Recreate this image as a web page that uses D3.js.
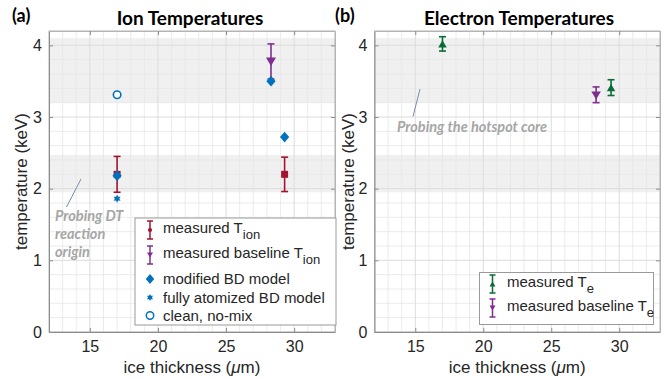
<!DOCTYPE html>
<html><head><meta charset="utf-8">
<script src="https://cdn.jsdelivr.net/npm/d3@7"></script>
<style>body{margin:0;background:#fff}svg{display:block}</style>
</head><body>
<svg id="c" width="667" height="379"></svg>
<script>
// ---- data ----
const xTicks = [15, 20, 25, 30];
const yTicks = [0, 1, 2, 3, 4];
const xDomain = [12, 33];
const yDomain = [0, 4.2];
const bands = [[1.95, 2.47], [3.2, 4.1]];

// Ion temperatures (panel a)
const measuredTion = [ {x: 17, y: 2.2, lo: 1.95, hi: 2.45}, {x: 29.3, y: 2.2, lo: 1.96, hi: 2.44} ];
const baselineTion = [ {x: 28.3, y: 3.77, lo: 3.53, hi: 4.02} ];
const modifiedBD = [ {x: 17, y: 2.18}, {x: 28.3, y: 3.5}, {x: 29.3, y: 2.72} ];
const fullyAtomizedBD = [ {x: 17, y: 1.86} ];
const cleanNoMix = [ {x: 17, y: 3.31} ];

// Electron temperatures (panel b)
const measuredTe = [ {x: 17, y: 4.02, lo: 3.92, hi: 4.12}, {x: 29.4, y: 3.41, lo: 3.3, hi: 3.52} ];
const baselineTe = [ {x: 28.3, y: 3.3, lo: 3.2, hi: 3.42} ];

const C = {red: "#A2142F", purple: "#7E2F8E", blue: "#0072BD", green: "#0B6B38"};
const svg = d3.select("#c");
const tickFont = "'Liberation Sans', Arial, sans-serif";
const titleFont = "Lato, 'Open Sans', sans-serif";

function diamondPath(hw, hh){ return `M0,${-hh}L${hw},0L0,${hh}L${-hw},0Z`; }
function triPath(s, down){ const h = s*0.85; return down ? `M${-s/2},${-h/2}L${s/2},${-h/2}L0,${h/2}Z` : `M${-s/2},${h/2}L${s/2},${h/2}L0,${-h/2}Z`; }
function hexPath(r){
  let p = "";
  for (let k=0;k<12;k++){ const a = -Math.PI/2 + k*Math.PI/6; const rr = k%2===0 ? r : r*0.55; p += (k?"L":"M") + (rr*Math.cos(a)).toFixed(2) + "," + (rr*Math.sin(a)).toFixed(2); }
  return p + "Z";
}

function panel(opt){
  const g = svg.append("g");
  const x = d3.scaleLinear().domain(xDomain).range([opt.x0, opt.x1]);
  const y = d3.scaleLinear().domain(yDomain).range([opt.y1, opt.y0]);
  g.selectAll(".band").data(bands).enter().append("rect")
    .attr("x", opt.x0).attr("width", opt.x1-opt.x0)
    .attr("y", d=>y(d[1])).attr("height", d=>y(d[0])-y(d[1]))
    .attr("fill", "#f0f0f0");
  const minorX = d3.range(13, 33, 1).filter(v=>!xTicks.includes(v));
  const minorY = d3.range(0.2, 4.2, 0.2).map(v=>+v.toFixed(1)).filter(v=>!yTicks.includes(v));
  g.selectAll(".mx").data(minorX).enter().append("line")
    .attr("x1", d=>x(d)).attr("x2", d=>x(d)).attr("y1", opt.y0).attr("y2", opt.y1)
    .attr("stroke", "#e6e6e6").attr("stroke-width", 0.8);
  g.selectAll(".my").data(minorY).enter().append("line")
    .attr("y1", d=>y(d)).attr("y2", d=>y(d)).attr("x1", opt.x0).attr("x2", opt.x1)
    .attr("stroke", "#e6e6e6").attr("stroke-width", 0.8);
  g.selectAll(".gx").data(xTicks).enter().append("line")
    .attr("x1", d=>x(d)).attr("x2", d=>x(d)).attr("y1", opt.y0).attr("y2", opt.y1)
    .attr("stroke", "#dcdcdc").attr("stroke-width", 1);
  g.selectAll(".gy").data(yTicks).enter().append("line")
    .attr("y1", d=>y(d)).attr("y2", d=>y(d)).attr("x1", opt.x0).attr("x2", opt.x1)
    .attr("stroke", "#dcdcdc").attr("stroke-width", 1);
  g.append("rect").attr("x", opt.x0).attr("y", opt.y0).attr("width", opt.x1-opt.x0).attr("height", opt.y1-opt.y0)
    .attr("fill", "none").attr("stroke", "#b4b4b4").attr("stroke-width", 1);
  const ax = g.append("g").attr("transform", `translate(0,${opt.y1})`)
    .call(d3.axisBottom(x).tickValues(xTicks).tickSizeInner(-4).tickSizeOuter(0).tickPadding(9));
  const ay = g.append("g").attr("transform", `translate(${opt.x0},0)`)
    .call(d3.axisLeft(y).tickValues(yTicks).tickFormat(d3.format("d")).tickSizeInner(-4).tickSizeOuter(0).tickPadding(7));
  const axT = g.append("g").attr("transform", `translate(0,${opt.y0})`)
    .call(d3.axisTop(x).tickValues(xTicks).tickSizeInner(-4).tickSizeOuter(0).tickFormat(""));
  const ayR = g.append("g").attr("transform", `translate(${opt.x1},0)`)
    .call(d3.axisRight(y).tickValues(yTicks).tickSizeInner(-4).tickSizeOuter(0).tickFormat(""));
  [ax, ay, axT, ayR].forEach(a => {
    a.select(".domain").attr("stroke", "#b4b4b4");
    a.selectAll(".tick line").attr("stroke", "#8c8c8c");
    a.selectAll("text").attr("font-family", tickFont).attr("font-size", 16).attr("fill", "#262626");
  });
  ax.select(".domain").attr("stroke", "#8c8c8c");
  ay.select(".domain").attr("stroke", "#8c8c8c");
  const xl = g.append("text").attr("x", (opt.x0+opt.x1)/2).attr("y", 373).attr("text-anchor", "middle")
    .attr("font-family", tickFont).attr("font-size", 17).attr("fill", "#262626");
  xl.append("tspan").text("ice thickness (");
  xl.append("tspan").attr("font-style", "italic").text("μ");
  xl.append("tspan").text("m)");
  g.append("text").attr("transform", `translate(${opt.ylx},${(opt.y0+opt.y1)/2}) rotate(-90)`)
    .attr("text-anchor", "middle").attr("font-family", tickFont).attr("font-size", 17).attr("fill", "#262626")
    .text("temperature (keV)");
  g.append("text").attr("x", opt.tx).attr("y", 25).attr("text-anchor", "middle")
    .attr("font-family", titleFont).attr("font-weight", "bold").attr("font-size", 19).attr("fill", "#000")
    .text(opt.title);
  g.append("text").attr("x", opt.lx).attr("y", 22)
    .attr("font-family", titleFont).attr("font-weight", "bold").attr("font-size", 18).attr("fill", "#000")
    .text(opt.letter);
  return {g, x, y};
}

function errBars(g, x, y, data, color, cap){
  const e = g.append("g").attr("stroke", color).attr("stroke-width", 1.6).attr("fill", "none");
  data.forEach(d => {
    e.append("line").attr("x1", x(d.x)).attr("x2", x(d.x)).attr("y1", y(d.lo)).attr("y2", y(d.hi));
    e.append("line").attr("x1", x(d.x)-cap).attr("x2", x(d.x)+cap).attr("y1", y(d.lo)).attr("y2", y(d.lo));
    e.append("line").attr("x1", x(d.x)-cap).attr("x2", x(d.x)+cap).attr("y1", y(d.hi)).attr("y2", y(d.hi));
  });
}
function marks(g, x, y, data, path, fill, stroke, sw){
  g.selectAll(null).data(data).enter().append("path")
    .attr("transform", d=>`translate(${x(d.x)},${y(d.y)})`).attr("d", path)
    .attr("fill", fill).attr("stroke", stroke || "none").attr("stroke-width", sw || 0);
}

function legendErr(g, cx, cy, color, markerPath){
  const e = g.append("g").attr("stroke", color).attr("stroke-width", 1.5);
  e.append("line").attr("x1", cx).attr("x2", cx).attr("y1", cy-9).attr("y2", cy+9);
  e.append("line").attr("x1", cx-3).attr("x2", cx+3).attr("y1", cy-9).attr("y2", cy-9);
  e.append("line").attr("x1", cx-3).attr("x2", cx+3).attr("y1", cy+9).attr("y2", cy+9);
  g.append("path").attr("transform", `translate(${cx},${cy})`).attr("d", markerPath).attr("fill", color);
}
function legendText(g, tx, ty, main, sub){
  const t = g.append("text").attr("x", tx).attr("y", ty+5).attr("font-family", tickFont).attr("font-size", 15).attr("fill", "#262626");
  t.append("tspan").text(main);
  if (sub) t.append("tspan").attr("dy", 6).attr("font-size", 13).text(sub);
}

// ---- panel (a) ----
const A = panel({x0: 49, x1: 335, y0: 31, y1: 332, title: "Ion Temperatures", tx: 190, letter: "(a)", lx: 12, ylx: 27});
A.g.append("line").attr("x1", 81).attr("y1", 179).attr("x2", 66.5).attr("y2", 207).attr("stroke", "#7d8ca6").attr("stroke-width", 1);
const annA = A.g.append("text").attr("font-family", titleFont).attr("font-weight", "bold").attr("font-style", "italic")
  .attr("font-size", 14.5).attr("fill", "#a6a6a6");
["Probing DT", "reaction", "origin"].forEach((s, i) => annA.append("tspan").attr("x", 55).attr("y", 221 + i*18).text(s));

errBars(A.g, A.x, A.y, measuredTion, C.red, 3.5);
marks(A.g, A.x, A.y, measuredTion, "M-3.5,-3.5H3.5V3.5H-3.5Z", C.red);
errBars(A.g, A.x, A.y, baselineTion, C.purple, 3.5);
marks(A.g, A.x, A.y, baselineTion, triPath(10, true), C.purple);
marks(A.g, A.x, A.y, modifiedBD, diamondPath(4.6, 5.4), C.blue);
marks(A.g, A.x, A.y, fullyAtomizedBD, hexPath(4), C.blue);
marks(A.g, A.x, A.y, cleanNoMix, d3.symbol(d3.symbolCircle, 44)(), "#fff", C.blue, 1.6);

const LA = A.g.append("g");
LA.append("rect").attr("x", 135).attr("y", 218).attr("width", 201).attr("height", 107).attr("fill", "#fff").attr("stroke", "#9a9a9a").attr("stroke-width", 1);
legendErr(LA, 150, 230, C.red, d3.symbol(d3.symbolCircle, 14)());
legendText(LA, 163, 228, "measured T", "ion");
legendErr(LA, 150, 255, C.purple, triPath(6, true));
legendText(LA, 163, 253, "measured baseline T", "ion");
LA.append("path").attr("transform", "translate(150,279)").attr("d", diamondPath(4.2, 5)).attr("fill", C.blue);
legendText(LA, 163, 279, "modified BD model");
LA.append("path").attr("transform", "translate(150,297.5)").attr("d", hexPath(3.5)).attr("fill", C.blue);
legendText(LA, 163, 297.5, "fully atomized BD model");
LA.append("circle").attr("cx", 150).attr("cy", 315.5).attr("r", 3.7).attr("fill", "#fff").attr("stroke", C.blue).attr("stroke-width", 1.5);
legendText(LA, 163, 315.5, "clean, no-mix");

// ---- panel (b) ----
const B = panel({x0: 374.5, x1: 660, y0: 31, y1: 332, title: "Electron Temperatures", tx: 519, letter: "(b)", lx: 335, ylx: 354});
B.g.append("line").attr("x1", 420).attr("y1", 89).attr("x2", 413).attr("y2", 116.5).attr("stroke", "#7d8ca6").attr("stroke-width", 1);
B.g.append("text").attr("x", 397).attr("y", 131.5).attr("font-family", titleFont).attr("font-weight", "bold").attr("font-style", "italic")
  .attr("font-size", 14.5).attr("fill", "#a6a6a6").text("Probing the hotspot core");

errBars(B.g, B.x, B.y, measuredTe, C.green, 3.5);
marks(B.g, B.x, B.y, measuredTe, triPath(8.5, false), C.green);
errBars(B.g, B.x, B.y, baselineTe, C.purple, 3.5);
marks(B.g, B.x, B.y, baselineTe, triPath(9.5, true), C.purple);

const LB = B.g.append("g");
LB.append("rect").attr("x", 479.5).attr("y", 272.5).attr("width", 174).attr("height", 52).attr("fill", "#fff").attr("stroke", "#9a9a9a").attr("stroke-width", 1);
legendErr(LB, 492.5, 284, C.green, triPath(6, false));
legendText(LB, 507, 282, "measured T", "e");
legendErr(LB, 492.5, 308, C.purple, triPath(6, true));
legendText(LB, 507, 306, "measured baseline T", "e");
</script>
</body></html>
